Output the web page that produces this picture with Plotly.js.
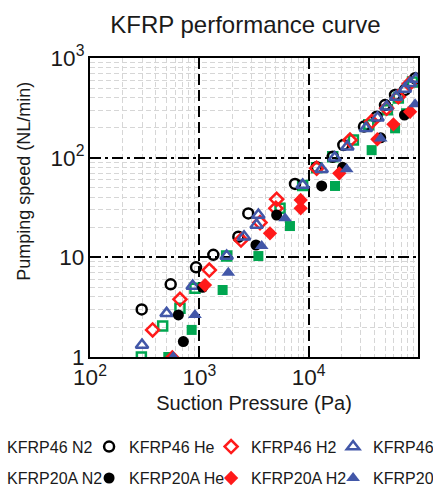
<!DOCTYPE html>
<html><head><meta charset="utf-8">
<script src="https://cdn.plot.ly/plotly-3.0.1.min.js"></script>
<style>
html,body{margin:0;padding:0;overflow:hidden;width:433px;height:486px;background:#fff}
#chart{position:absolute;left:-100px;top:0;width:533px;height:486px}
</style>
</head><body><div id="chart"></div>
<script>
// Suction pressure (Pa) and pumping speed (NL/min)
const kfrp46N2X = [295, 462, 665, 912, 1778, 5470, 8810, 11830, 16600, 25650, 35480, 52480, 66070, 89100];
const kfrp46N2Y = [1.0, 2.05, 3.08, 4.89, 10.3, 31.0, 52.5, 79.4, 102, 150, 214, 302, 398, 575];
const kfrp46HeX = [297, 547, 933, 1343, 2275, 2805, 7499, 11830, 16600, 20750, 32060, 41880, 49890, 61660, 76030, 93970];
const kfrp46HeY = [3.0, 5.36, 7.94, 10.6, 16.1, 27.6, 54.5, 80, 102, 134, 205, 258, 337, 426, 478, 625];
const kfrp46H2X = [374, 665, 1233, 2404, 3589, 5012, 5093, 11830, 23880, 37670, 51640, 66070, 83200];
const kfrp46H2Y = [1.87, 3.79, 7.46, 14.9, 22.3, 31.0, 38.2, 78.2, 150, 230, 313, 409, 550];
const kfrp46X = [299, 502, 869, 1778, 2564, 3342, 3467, 8810, 13150, 17300, 22590, 33420, 42660, 51640, 63100, 75860, 84530, 95500];
const kfrp46Y = [1.32, 2.74, 5.15, 10.3, 16.1, 21.1, 26.6, 53.2, 76.4, 100, 129, 197, 251, 324, 407, 490, 557, 617];

const kfrp20AN2X = [520, 851, 1633, 3467, 6745, 17420, 37670, 61700, 77620];
const kfrp20AN2Y = [1.0, 1.87, 4.70, 10.3, 20.6, 52.0, 119, 197, 279];
const kfrp20AHeX = [643, 714, 1072, 3296, 5093, 13150, 20460, 45600, 75200];
const kfrp20AHeY = [2.64, 1.43, 5.0, 13.3, 26.6, 52.0, 80, 158, 268];
const kfrp20AH2X = [566, 1127, 4426, 8450, 8450, 19050, 42460, 59600, 84700];
const kfrp20AH2Y = [1.0, 5.27, 17.4, 31.0, 37.6, 69.7, 153, 216, 289];
const kfrp20X = [578, 912, 1841, 3715, 6081, 22280, 45600, 93970];
const kfrp20Y = [1.0, 2.64, 7.0, 13.0, 24.6, 76.4, 156, 344];

const seriesNames = ['KFRP46 N2', 'KFRP46 He', 'KFRP46 H2', 'KFRP46',
                     'KFRP20A N2', 'KFRP20A He', 'KFRP20A H2', 'KFRP20A'];

const GREEN = '#00a650', BLACK = '#000000', RED = '#ff1a1a', BLUE = '#4257a8';

function tr(x, y, name, symbol, color, size, leg) {
  const open = symbol.indexOf('-open') >= 0;
  return {
    type: 'scatter', mode: 'markers', x: x, y: y, name: name, legend: leg,
    marker: {symbol: symbol, color: color, size: size,
             line: {color: color, width: open ? 2.5 : 0}},
    hoverinfo: 'x+y+name'
  };
}

const data = [
  tr(kfrp46N2X, kfrp46N2Y, seriesNames[0], 'square-open', GREEN, 9, 'legend'),
  tr(kfrp46HeX, kfrp46HeY, seriesNames[1], 'circle-open', BLACK, 10, 'legend'),
  tr(kfrp46H2X, kfrp46H2Y, seriesNames[2], 'diamond-open', RED, 10, 'legend'),
  tr(kfrp46X, kfrp46Y, seriesNames[3], 'triangle-up-open', BLUE, 11, 'legend'),
  tr(kfrp20AN2X, kfrp20AN2Y, seriesNames[4], 'square', GREEN, 10, 'legend2'),
  tr(kfrp20AHeX, kfrp20AHeY, seriesNames[5], 'circle', BLACK, 11, 'legend2'),
  tr(kfrp20AH2X, kfrp20AH2Y, seriesNames[6], 'diamond', RED, 11, 'legend2'),
  tr(kfrp20X, kfrp20Y, seriesNames[7], 'triangle-up', BLUE, 12, 'legend2')
];

const FONT = 'Arial, "Liberation Sans", sans-serif';
const TXT = '#1a1a1a';
const legendBase = {
  orientation: 'h', xanchor: 'left', x: -0.329, yanchor: 'middle',
  indentation: -15,
  entrywidth: 92, entrywidthmode: 'pixels',
  font: {family: FONT, size: 16, color: TXT},
  bgcolor: 'rgba(0,0,0,0)', borderwidth: 0
};

const axisBase = {
  type: 'log', dtick: 1, exponentformat: 'power',
  showline: true, linecolor: '#000', linewidth: 2, mirror: true,
  ticks: 'inside', ticklen: 5, tickwidth: 1.5, tickcolor: '#000',
  showgrid: true, gridcolor: '#000', gridwidth: 2,
  tickfont: {family: FONT, size: 18, color: TXT},
  zeroline: false,
  minor: {dtick: 'D1', showgrid: true, gridcolor: '#d6d6d6', gridwidth: 1, griddash: '5px,3px', ticks: ''}
};

const layout = {
  width: 533, height: 486,
  margin: {l: 190, r: 15, t: 58, b: 129, autoexpand: false},
  paper_bgcolor: '#fff', plot_bgcolor: '#fff',
  font: {family: FONT, color: TXT},
  showlegend: true,
  title: {text: 'KFRP performance curve', font: {family: FONT, size: 24, color: TXT},
          xref: 'container', x: 0.648, xanchor: 'center',
          yref: 'container', y: 1 - 25 / 486, yanchor: 'middle'},
  xaxis: Object.assign({}, axisBase, {
    range: [2, 5], griddash: '11px,5px',
    title: {text: 'Suction Pressure (Pa)', font: {family: FONT, size: 20, color: TXT}, standoff: 7}
  }),
  yaxis: Object.assign({}, axisBase, {
    range: [0, 3], griddash: '11px,4px,3px,4px'
  }),
  annotations: [{
    text: 'Pumping speed (NL/min)', textangle: -90, showarrow: false,
    xref: 'paper', yref: 'paper', x: -0.201, y: 0.586, xanchor: 'center', yanchor: 'middle',
    font: {family: FONT, size: 18, color: TXT}
  }],
  legend: Object.assign({}, legendBase, {y: -0.300}),
  legend2: Object.assign({}, legendBase, {y: -0.405})
};

Plotly.newPlot('chart', data, layout, {displayModeBar: false, staticPlot: true});
</script>
</body></html>
